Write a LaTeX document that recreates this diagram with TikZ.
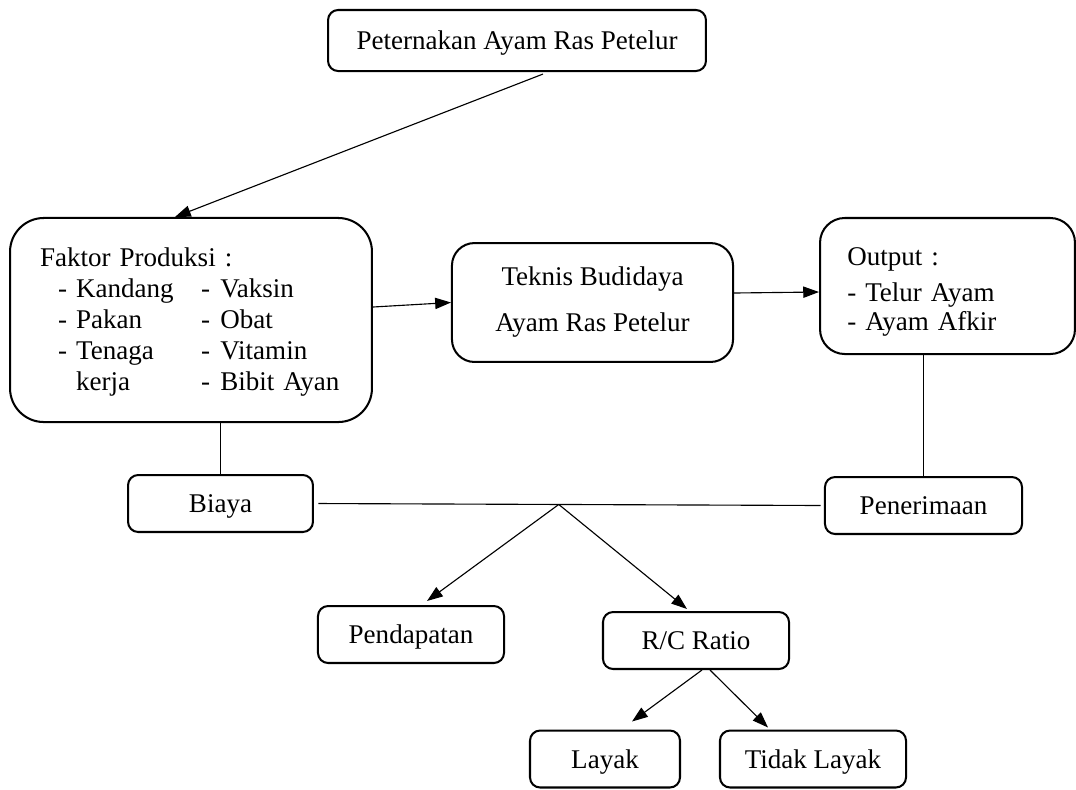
\documentclass[tikz,border=0pt]{standalone}
\usepackage{fontspec}
\setmainfont{Liberation Serif}
\usetikzlibrary{positioning, calc, arrows.meta}

\newcommand{\faktorrow}[4]{\hspace*{8pt}\makebox[8pt][l]{#1}\makebox[55.5pt][l]{#2}\makebox[8.5pt][l]{#3}#4}

\begin{document}
\begin{tikzpicture}[x=0.444pt, y=-0.444pt, font=\fontsize{12}{13.8}\selectfont, line width=0.5pt,
>={Triangle[length=7pt,width=5pt]},
box/.style={draw, line width=0.9pt, rounded corners=4.5pt, minimum height=25.3pt, inner sep=2pt},
onebox/.style={box, text height=9.5pt, text depth=1.1pt}]

            \useasboundingbox (0,0) rectangle (1076,789);

            \node[onebox, minimum width=167.8pt, minimum height=27.1pt] (ternak) at (517,40.5) {Peternakan Ayam Ras Petelur};
            \node[box, rounded corners=15pt, minimum width=160.7pt, minimum height=90.6pt, text width=134pt, align=left] (faktor) at (191,320) {\rule{0pt}{10pt}Faktor Produksi :\\
               \faktorrow{-}{Kandang}{-}{Vaksin}\\
               \faktorrow{-}{Pakan}{-}{Obat}\\
               \faktorrow{-}{Tenaga}{-}{Vitamin}\\
               \faktorrow{}{kerja}{-}{Bibit Ayan}};
            \node[box, rounded corners=10pt, minimum width=124.8pt, minimum height=52.8pt, align=center] (teknis) at (592.5,302.5) {Teknis Budidaya\\[6.6pt] Ayam Ras Petelur};
            \node[box, rounded corners=11pt, minimum width=113.2pt, minimum height=60.4pt, text width=89pt, align=left] (output) at (947.5,286) {\rule{0pt}{13.5pt}Output :\\[2.2pt]
               \makebox[8pt][l]{-}Telur Ayam\\[-0.9pt]
               \makebox[8pt][l]{-}Ayam Afkir};

            \node[onebox, minimum width=82.1pt] (biaya) at (220.5,503.5) {Biaya};
            \node[onebox, minimum width=87.5pt] (penerimaan) at (923.5,505.5) {Penerimaan};
            \node[onebox, minimum width=82.6pt] (pendapatan) at (411,634.5) {Pendapatan};
            \node[onebox, minimum width=82.6pt] (rc) at (696,640.5) {R/C Ratio};
            \node[onebox, minimum width=66.6pt] (layak) at (605,759) {Layak};
            \node[onebox, minimum width=82.6pt] (tidak) at (813,759) {Tidak Layak};

            \draw[->] ($(ternak.south)+(26,2)$) -- ($(faktor.north)+(-16,0)$);
            \draw[->] ($(faktor.east)+(0,-13)$) -- (teknis.west);
            \draw[->] ($(teknis.east)+(0,-9.5)$) -- ($(output.west)+(0,6)$);

            \draw (biaya.north |- faktor.south) -- (biaya.north);
            \draw (penerimaan.north |- output.south) -- (penerimaan.north);
            \draw[shorten <=2pt, shorten >=1.5pt] (biaya.east) -- coordinate[pos=0.48] (hasil) (penerimaan.west);

            \draw[->] (hasil) -- ($(pendapatan.north)+(16,-4)$);
            \draw[->] (hasil) -- ($(rc.north)+(-9,-2)$);
            \draw[->] ($(rc.south)+(6,0)$) -- ($(layak.north)+(27,-8)$);
            \draw[->] ($(rc.south)+(14,0)$) -- ($(tidak.north)+(-45,-2)$);
        \end{tikzpicture}
\end{document}
